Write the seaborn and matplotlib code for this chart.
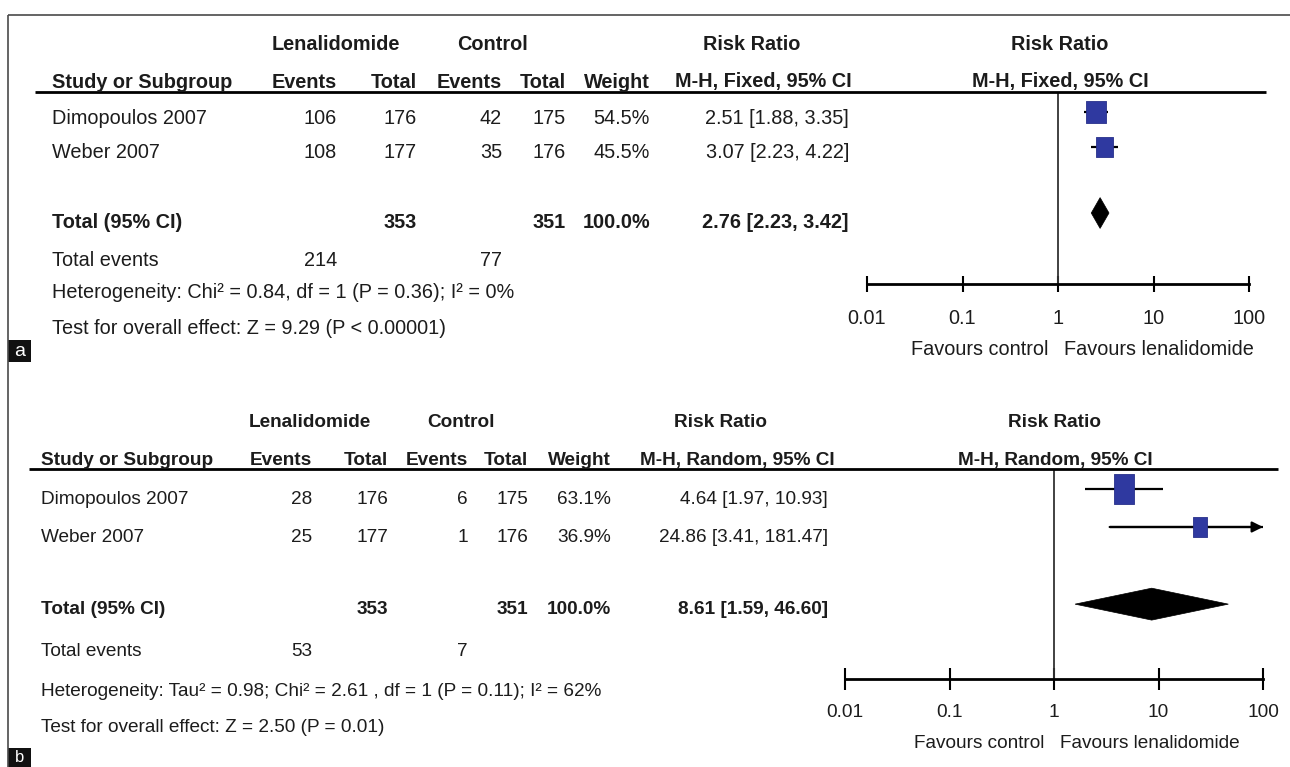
import matplotlib
matplotlib.use("Agg")
import matplotlib.pyplot as plt
from matplotlib.lines import Line2D
from matplotlib.patches import Rectangle, Polygon
from matplotlib.path import Path
from matplotlib.ticker import NullLocator, FixedLocator, FixedFormatter
import numpy as np
import pandas as pd
import seaborn as sns

# ---------------- data ----------------
studies = ["Dimopoulos 2007", "Weber 2007"]

# Panel a : Risk Ratio, M-H Fixed
a_len_events = [106, 108]
a_len_total = [176, 177]
a_ctl_events = [42, 35]
a_ctl_total = [175, 176]
a_weight = [54.5, 45.5]
a_rr = [2.51, 3.07]
a_ci_low = [1.88, 2.23]
a_ci_high = [3.35, 4.22]
a_pooled = [2.76, 2.23, 3.42]          # estimate, low, high
a_sum_total = [353, 351]
a_sum_events = [214, 77]
a_method = "M-H, Fixed, 95% CI"
a_heterogeneity = "Heterogeneity: Chi\u00b2 = 0.84, df = 1 (P = 0.36); I\u00b2 = 0%"
a_overall = "Test for overall effect: Z = 9.29 (P < 0.00001)"

# Panel b : Risk Ratio, M-H Random
b_len_events = [28, 25]
b_len_total = [176, 177]
b_ctl_events = [6, 1]
b_ctl_total = [175, 176]
b_weight = [63.1, 36.9]
b_rr = [4.64, 24.86]
b_ci_low = [1.97, 3.41]
b_ci_high = [10.93, 181.47]
b_pooled = [8.61, 1.59, 46.60]
b_sum_total = [353, 351]
b_sum_events = [53, 7]
b_method = "M-H, Random, 95% CI"
b_heterogeneity = ("Heterogeneity: Tau\u00b2 = 0.98; Chi\u00b2 = 2.61 , df = 1 "
                   "(P = 0.11); I\u00b2 = 62%")
b_overall = "Test for overall effect: Z = 2.50 (P = 0.01)"

tick_values = [0.01, 0.1, 1, 10, 100]
tick_labels = ["0.01", "0.1", "1", "10", "100"]
favours = ["Favours control", "Favours lenalidomide"]

# ---------------- style ----------------
sns.set_theme(style="white")
plt.rcParams["font.family"] = ["Liberation Sans", "DejaVu Sans"]

W, H = 1290, 767
fig = plt.figure(figsize=(W / 100, H / 100), dpi=100, facecolor="white")

TXT = "#1c1c1c"
BLUE = "#2f39a0"
BLUE_EDGE = "#28308a"


def P(x, y):
    return x / W, 1 - y / H


def T(x, y, s, ha="left", bold=False, fs=14.3, color=TXT):
    fig.text(*P(x, y), s, ha=ha, va="center", fontsize=fs,
             fontweight="bold" if bold else "normal", color=color)


def fline(x0, x1, y0, y1, lw, color="black"):
    (fx0, fy0), (fx1, fy1) = P(x0, y0), P(x1, y1)
    fig.add_artist(Line2D([fx0, fx1], [fy0, fy1], lw=lw, color=color,
                          transform=fig.transFigure, solid_capstyle="butt"))


def rect_marker(aspect):
    w, h = aspect, 1.0
    verts = [(-w / 2, -h / 2), (w / 2, -h / 2), (w / 2, h / 2),
             (-w / 2, h / 2), (-w / 2, -h / 2)]
    return Path(verts, [Path.MOVETO] + [Path.LINETO] * 3 + [Path.CLOSEPOLY])


def panel(d, L):
    fs = L["fs"]
    r = L["rows"]
    # --- table headers
    T(L["x_len"], r[0], "Lenalidomide", "center", True, fs)
    T(L["x_ctl"], r[0], "Control", "center", True, fs)
    T(L["x_rr"], r[0], "Risk Ratio", "center", True, fs)
    T(L["x_plot_hdr"], r[0], "Risk Ratio", "center", True, fs)
    T(L["x_name"], r[1], "Study or Subgroup", "left", True, fs)
    for x, s in zip(L["cols"], ["Events", "Total", "Events", "Total", "Weight"]):
        T(x, r[1], s, "right", True, fs)
    T(L["x_meth"], r[1], d["method"], "center", True, fs)
    T(L["x_plot_hdr"], r[1], d["method"], "center", True, fs)
    x0, x1, yl = L["hline"]
    fline(x0, x1, yl, yl, 2.0)

    # --- study rows
    for i, name in enumerate(studies):
        y = r[2 + i]
        T(L["x_name"], y, name, "left", False, fs)
        vals = [d["le"][i], d["lt"][i], d["ce"][i], d["ct"][i]]
        for x, v in zip(L["cols"][:4], vals):
            T(x, y, f"{v}", "right", False, fs)
        T(L["cols"][4], y, f"{d['w'][i]:.1f}%", "right", False, fs)
        T(L["x_ci"], y,
          f"{d['rr'][i]:.2f} [{d['lo'][i]:.2f}, {d['hi'][i]:.2f}]",
          "right", False, fs)

    # --- total row
    y = r[4]
    T(L["x_name"], y, "Total (95% CI)", "left", True, fs)
    T(L["cols"][1], y, f"{d['st'][0]}", "right", True, fs)
    T(L["cols"][3], y, f"{d['st'][1]}", "right", True, fs)
    T(L["cols"][4], y, f"{sum(d['w']):.1f}%", "right", True, fs)
    pe, pl, ph = d["pooled"]
    T(L["x_ci"], y, f"{pe:.2f} [{pl:.2f}, {ph:.2f}]", "right", True, fs)

    y = r[5]
    T(L["x_name"], y, "Total events", "left", False, fs)
    T(L["cols"][0], y, f"{d['se'][0]}", "right", False, fs)
    T(L["cols"][2], y, f"{d['se'][1]}", "right", False, fs)
    T(L["x_name"], r[6], d["het"], "left", False, fs)
    T(L["x_name"], r[7], d["overall"], "left", False, fs)

    # --- forest axes
    ax_l, ax_r, ax_t, ax_b = L["ax_box"]
    ax = fig.add_axes([ax_l / W, 1 - ax_b / H, (ax_r - ax_l) / W, (ax_b - ax_t) / H])
    ax.set_facecolor("none")
    row_pos = np.arange(len(studies), dtype=float)
    pooled_pos = L["pooled_row"]
    df = pd.DataFrame({"rr": d["rr"], "row": row_pos, "w": d["w"]})
    sizes = (np.array(d["w"]) / 100.0) ** 1.5 * L["size_k"]

    xmax = tick_values[-1]
    hi_clip = np.minimum(d["hi"], xmax)
    ax.hlines(row_pos, d["lo"], hi_clip, color="black", lw=1.6, zorder=2)
    for lo, hi, yy in zip(d["lo"], d["hi"], row_pos):
        if hi > xmax:
            ax.annotate("", xy=(xmax, yy), xytext=(lo, yy),
                        arrowprops=dict(arrowstyle="-|>", lw=1.6, color="black",
                                        mutation_scale=16, shrinkA=0, shrinkB=0),
                        annotation_clip=False, zorder=2)
    sns.scatterplot(data=df, x="rr", y="row", ax=ax, marker=rect_marker(L["aspect"]),
                    s=sizes, color=BLUE, edgecolor=BLUE_EDGE, linewidth=0.6,
                    legend=False, zorder=4)
    h = L["diamond_h"]
    ax.add_patch(Polygon([(pl, pooled_pos), (pe, pooled_pos - h),
                          (ph, pooled_pos), (pe, pooled_pos + h)],
                         closed=True, facecolor="black", edgecolor="black",
                         lw=0.5, zorder=4))
    ax.axvline(1, color="#333333", lw=1.3, zorder=1)

    ax.set_xscale("log")
    ax.set_xlim(tick_values[0], tick_values[-1])
    row_h = L["row_h"]
    ax.set_ylim((ax_b - L["row0"]) / row_h, (ax_t - L["row0"]) / row_h)
    ax.set(xlabel="", ylabel="")
    ax.set_yticks([])
    ax.xaxis.set_major_locator(FixedLocator(tick_values))
    ax.xaxis.set_major_formatter(FixedFormatter(tick_labels))
    ax.xaxis.set_minor_locator(NullLocator())
    for s in ["top", "left", "right"]:
        ax.spines[s].set_visible(False)
    ax.spines["bottom"].set_linewidth(2.0)
    ax.spines["bottom"].set_color("black")
    ax.tick_params(axis="x", which="major", direction="inout", length=L["tick_len"],
                   width=1.5, color="black", pad=L["pad"], labelsize=fs,
                   labelcolor=TXT, bottom=True)
    tr = ax.get_xaxis_transform()
    ax.annotate(favours[0], xy=(1, 0), xycoords=tr, xytext=(-7, -L["fav_dy"] * 0.72),
                textcoords="offset points", ha="right", va="center", fontsize=fs,
                color=TXT, annotation_clip=False)
    ax.annotate(favours[1], xy=(1, 0), xycoords=tr, xytext=(4, -L["fav_dy"] * 0.72),
                textcoords="offset points", ha="left", va="center", fontsize=fs,
                color=TXT, annotation_clip=False)

    # --- panel letter
    ly0, ly1 = L["label_y"]
    fx, fy = P(8, ly1)
    fig.add_artist(Rectangle((fx, fy), 23 / W, (ly1 - ly0) / H, transform=fig.transFigure,
                             facecolor="#111111", edgecolor="none"))
    fig.text(*P(19.5, (ly0 + ly1) / 2), L["label"], ha="center", va="center",
             color="white", fontsize=L["label_fs"])


data_a = dict(le=a_len_events, lt=a_len_total, ce=a_ctl_events, ct=a_ctl_total,
              w=a_weight, rr=a_rr, lo=a_ci_low, hi=a_ci_high, pooled=a_pooled,
              st=a_sum_total, se=a_sum_events, method=a_method,
              het=a_heterogeneity, overall=a_overall)
data_b = dict(le=b_len_events, lt=b_len_total, ce=b_ctl_events, ct=b_ctl_total,
              w=b_weight, rr=b_rr, lo=b_ci_low, hi=b_ci_high, pooled=b_pooled,
              st=b_sum_total, se=b_sum_events, method=b_method,
              het=b_heterogeneity, overall=b_overall)

layout_a = dict(fs=14.3, rows=[45, 82, 118, 153, 222, 260, 293, 328],
                x_name=52, cols=[337, 417, 502, 566, 650], x_ci=849,
                x_len=336, x_ctl=493, x_rr=752, x_meth=763, x_plot_hdr=1060,
                hline=(35, 1266, 92), ax_box=(867, 1249, 92, 284),
                row0=112, row_h=35, pooled_row=2.886, diamond_h=0.44,
                size_k=660, aspect=0.87, tick_len=11.5, pad=12, fav_dy=66,
                label="a", label_y=(340, 362), label_fs=14)
layout_b = dict(fs=13.7, rows=[422, 460, 499, 537, 609, 652, 692, 728],
                x_name=41, cols=[312, 388, 468, 528, 611], x_ci=828,
                x_len=310, x_ctl=461, x_rr=720, x_meth=737, x_plot_hdr=1055,
                hline=(29, 1278, 469), ax_box=(845, 1263, 469, 679),
                row0=489, row_h=38, pooled_row=3.03, diamond_h=0.42,
                size_k=930, aspect=0.67, tick_len=16, pad=10, fav_dy=64,
                label="b", label_y=(748, 767), label_fs=12)

panel(data_a, layout_a)
panel(data_b, layout_b)

# outer frame lines (top and left)
fline(8, W, 15, 15, 1.2, "#4a4a4a")
fline(8, 8, 15, H, 1.2, "#4a4a4a")

fig.savefig("out.png", dpi=100, facecolor="white")
